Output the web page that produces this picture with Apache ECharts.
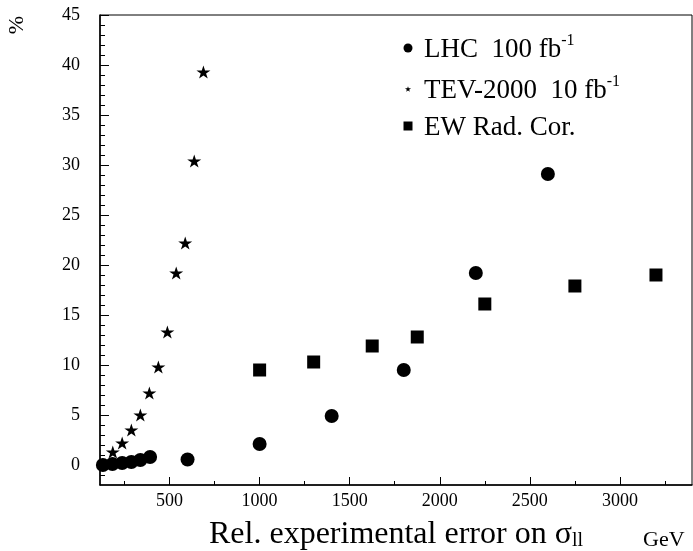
<!DOCTYPE html>
<html>
<head>
<meta charset="utf-8">
<script src="https://cdn.jsdelivr.net/npm/echarts@6/dist/echarts.min.js"></script>
<style>html,body{margin:0;padding:0;background:#fff}#c{width:693px;height:551px}</style>
</head>
<body>
<div id="c"></div>
<script>
// ---- data ----
const lhcX = [130, 183, 237, 288, 338, 392, 600, 1000, 1400, 1800, 2200, 2600];
const lhcY = [0.0, 0.1, 0.2, 0.3, 0.5, 0.8, 0.55, 2.1, 4.9, 9.5, 19.2, 29.1];
const tevX = [185, 237, 288, 338, 388, 438, 488, 537, 587, 637, 688];
const tevY = [1.3, 2.2, 3.5, 5.0, 7.2, 9.8, 13.3, 19.2, 22.2, 30.4, 39.3];
const ewX = [1000, 1300, 1625, 1875, 2250, 2750, 3200];
const ewY = [9.5, 10.3, 11.9, 12.8, 16.1, 17.9, 19.0];
const xMajorTicks = [500, 1000, 1500, 2000, 2500, 3000];
const xMinorTicks = [250, 750, 1250, 1750, 2250, 2750, 3250];
const yMajorTicks = [0, 5, 10, 15, 20, 25, 30, 35, 40, 45];
const yMinorTicks = [-1, 1, 2, 3, 4, 6, 7, 8, 9, 11, 12, 13, 14, 16, 17, 18, 19, 21, 22, 23, 24, 26, 27, 28, 29, 31, 32, 33, 34, 36, 37, 38, 39, 41, 42, 43, 44];
const legendLabels = {LHC: ['LHC  100 fb', '-1'], TEV: ['TEV-2000  10 fb', '-1'], EW: ['EW Rad. Cor.', '']};

const FONT = 'Liberation Serif';
const STAR = 'path://M50,0 L61.25,34.55 L97.55,34.55 L68.15,55.9 L79.4,90.45 L50,69.1 L20.6,90.45 L31.85,55.9 L2.45,34.55 L38.75,34.55 Z';
const zip = (xs, ys) => xs.map((x, i) => [x, ys[i]]);

const chart = echarts.init(document.getElementById('c'), null, {renderer: 'canvas'});
const XMIN = 114, XMAX = 3400, YMIN = -2, YMAX = 45;

function legendOf(name, icon, size, top) {
  return {
    data: [{name: name, icon: icon}],
    left: 403 - size / 2, top: top,
    itemWidth: size, itemHeight: size,
    selectedMode: false,
    formatter: n => legendLabels[n][1] ? '{a|' + legendLabels[n][0] + '}{s|' + legendLabels[n][1] + '}' : '{a|' + legendLabels[n][0] + '}',
    textStyle: {
      rich: {
        a: {fontFamily: FONT, fontSize: 27, color: '#000', lineHeight: 30, verticalAlign: 'bottom', padding: [0, 0, 0, 11 - size / 2]},
        s: {fontFamily: FONT, fontSize: 16, color: '#000', lineHeight: 18, verticalAlign: 'top'}
      }
    }
  };
}

// y-axis tick marks drawn through the y scale (inside the frame)
const yTickData = yMajorTicks.map(v => [XMIN, v, 9]).concat(yMinorTicks.map(v => [XMIN, v, 5]));
function renderYTick(params, api) {
  const p = api.coord([api.value(0), api.value(1)]);
  const y = Math.round(p[1]) + 0.5;
  const x = params.coordSys.x;
  return {type: 'line', silent: true,
    shape: {x1: x, y1: y, x2: x + api.value(2), y2: y},
    style: {stroke: '#000', lineWidth: 1}};
}

const tickStyle = {color: '#000', width: 1};
chart.setOption({
  animation: false,
  grid: {left: 100, top: 15, width: 592, height: 470, outerBoundsMode: 'none', containLabel: false, show: true, borderColor: '#000', borderWidth: 1, backgroundColor: 'transparent'},
  xAxis: [{
    type: 'value', min: XMIN, max: XMAX, position: 'bottom',
    axisLine: {show: true, onZero: false, lineStyle: {color: '#000', width: 1.5}},
    axisTick: {show: true, inside: true, length: 8, customValues: xMajorTicks, lineStyle: tickStyle},
    axisLabel: {customValues: xMajorTicks, formatter: v => String(v), fontFamily: FONT, fontSize: 18, color: '#000', margin: 7},
    splitLine: {show: false},
    name: '{a|Rel. experimental error on σ}{b|ll}',
    nameLocation: 'middle', nameGap: 26,
    nameTextStyle: {
      rich: {
        a: {fontFamily: FONT, fontSize: 32, color: '#000', lineHeight: 40, verticalAlign: 'bottom'},
        b: {fontFamily: FONT, fontSize: 20, color: '#000', lineHeight: 22, verticalAlign: 'bottom'}
      }
    }
  }, {
    type: 'value', min: XMIN, max: XMAX, position: 'bottom',
    axisLine: {show: false, onZero: false},
    axisTick: {show: true, inside: true, length: 4, customValues: xMinorTicks, lineStyle: tickStyle},
    axisLabel: {show: false},
    splitLine: {show: false}
  }],
  yAxis: [{
    type: 'value', min: YMIN, max: YMAX, position: 'left',
    axisLine: {show: true, onZero: false, lineStyle: {color: '#000', width: 1.5}},
    axisTick: {show: false},
    axisLabel: {customValues: yMajorTicks, fontFamily: FONT, fontSize: 18, color: '#000', margin: 20},
    splitLine: {show: false}
  }],
  legend: [
    legendOf('LHC', 'circle', 9, 28),
    legendOf('TEV', STAR, 6, 69),
    legendOf('EW', 'rect', 9, 109)
  ],
  graphic: [
    {type: 'text', x: 17, y: 25, rotation: Math.PI / 2, style: {text: '%', font: '22px "Liberation Serif"', fill: '#000', align: 'center', verticalAlign: 'middle'}},
    {type: 'text', x: 643, y: 529, style: {text: 'GeV', font: '22px "Liberation Serif"', fill: '#000', align: 'left', verticalAlign: 'top'}}
  ],
  series: [
    {name: 'yTicks', type: 'custom', silent: true, clip: false, encode: {x: 0, y: 1}, renderItem: renderYTick, data: yTickData, z: 1},
    {name: 'TEV', type: 'scatter', clip: false, symbol: STAR, symbolSize: [14, 13], itemStyle: {color: '#000', opacity: 1}, data: zip(tevX, tevY)},
    {name: 'EW', type: 'scatter', clip: false, symbol: 'rect', symbolSize: 13, itemStyle: {color: '#000', opacity: 1}, data: zip(ewX, ewY)},
    {name: 'LHC', type: 'scatter', clip: false, symbol: 'circle', symbolSize: 14, itemStyle: {color: '#000', opacity: 1}, data: zip(lhcX, lhcY)}
  ]
});
</script>
</body>
</html>
